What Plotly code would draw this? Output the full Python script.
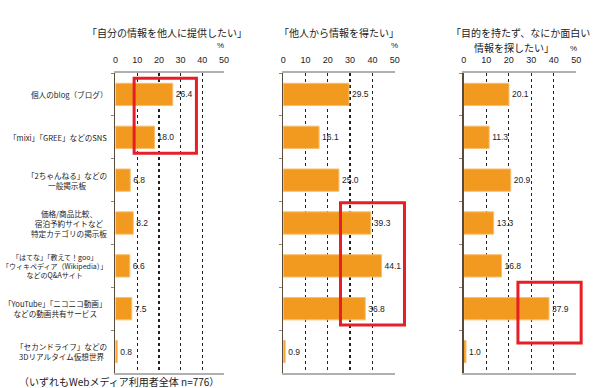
import plotly.graph_objects as go

categories = [
    "個人のblog（ブログ）",
    "「mixi」「GREE」などのSNS",
    "「2ちゃんねる」などの<br>一般掲示板",
    "価格/商品比較、<br>宿泊予約サイトなど<br>特定カテゴリの掲示板",
    "「はてな」「教えて！goo」<br>「ウィキペディア（Wikipedia）」<br>などのQ&Aサイト",
    "「YouTube」「ニコニコ動画」<br>などの動画共有サービス",
    "「セカンドライフ」などの<br>3Dリアルタイム仮想世界",
]
panel_titles = [
    "「自分の情報を他人に提供したい」",
    "「他人から情報を得たい」",
    "「目的を持たず、なにか面白い",
]
panel3_title_line2 = "情報を探したい」"
provide_values = [26.4, 18.0, 6.8, 8.2, 6.6, 7.5, 0.8]
obtain_values = [29.5, 16.1, 25.0, 39.3, 44.1, 36.8, 0.9]
browse_values = [20.1, 11.3, 20.9, 13.3, 16.8, 37.9, 1.0]
x_ticks = [0, 10, 20, 30, 40, 50]
footer = "（いずれもWebメディア利用者全体 n=776）"
# highlight boxes: (panel, x0, x1, top category edge, bottom category edge) in data units
highlights = [
    (0, 8.6, 37.3, -0.38, 1.37),
    (1, 25.7, 54.4, 2.53, 5.38),
    (2, 24.1, 52.2, 4.38, 5.80),
]

W, H = 596, 388
JP = "Noto Sans CJK JP"
x_domains = [(114 / W, 224 / W), (284 / W, 397 / W), (467 / W, 581 / W)]
y_domain = (1 - 373 / H, 1 - 73 / H)
series = [provide_values, obtain_values, browse_values]

fig = go.Figure()
for i, vals in enumerate(series):
    sfx = "" if i == 0 else str(i + 1)
    fig.add_trace(go.Bar(
        x=vals, y=categories, orientation="h",
        xaxis="x" + sfx, yaxis="y" + sfx,
        marker=dict(color="#F29A1F", line=dict(color="#F7BE70", width=1)),
        width=0.52,
        text=[f"{v:.1f}" for v in vals], textposition="outside",
        textfont=dict(family="Liberation Sans, Arial", size=8.5, color="#222"),
        cliponaxis=False, showlegend=False, hoverinfo="skip",
    ))
    fig.layout["xaxis" + sfx] = dict(
        domain=x_domains[i], range=[0, 50], side="top", anchor="y" + sfx,
        tickvals=x_ticks, ticktext=[str(t) for t in x_ticks],
        tickfont=dict(family="Liberation Sans, Arial", size=9, color="#222"),
        ticklabelstandoff=4,
        showgrid=True, griddash="dot", gridcolor="#222", gridwidth=1.3,
        zeroline=False, showline=True, linecolor="#b0b0b0", linewidth=2,
        mirror=True, ticks="", fixedrange=True,
    )
    fig.layout["yaxis" + sfx] = dict(
        domain=y_domain, anchor="x" + sfx, type="category",
        categoryorder="array", categoryarray=categories, autorange="reversed",
        showticklabels=False, showgrid=False, zeroline=False,
        showline=True, linecolor="#5a4a3a", linewidth=1.5,
        ticks="outside", tickson="boundaries", ticklen=3, tickcolor="#888",
        fixedrange=True,
    )

annotations = []
for c in categories:
    size = 7.0 if "Wikipedia" in c else 7.6
    annotations.append(dict(
        text=c, xref="paper", yref="y", x=107 / W, y=c,
        xanchor="right", yanchor="middle", align="center", showarrow=False,
        font=dict(family=JP, size=size, color="#222"),
    ))
title_pos = [(166, 32), (341, 32), (525, 32)]
for (tx, ty), t in zip(title_pos, panel_titles):
    annotations.append(dict(
        text=t, xref="paper", yref="paper", x=tx / W, y=1 - ty / H,
        xanchor="center", yanchor="middle", showarrow=False,
        font=dict(family=JP, size=10, color="#222"),
    ))
annotations.append(dict(
    text=panel3_title_line2, xref="paper", yref="paper", x=518 / W, y=1 - 47 / H,
    xanchor="center", yanchor="middle", showarrow=False,
    font=dict(family=JP, size=10, color="#222"),
))
for px, py in [(220, 45), (397, 45), (578, 48)]:
    annotations.append(dict(
        text="%", xref="paper", yref="paper", x=px / W, y=1 - py / H,
        xanchor="center", yanchor="middle", showarrow=False,
        font=dict(family="Liberation Sans, Arial", size=8, color="#222"),
    ))
annotations.append(dict(
    text=footer, xref="paper", yref="paper", x=14 / W, y=1 - 381 / H,
    xanchor="left", yanchor="middle", showarrow=False,
    font=dict(family=JP, size=10, color="#222"),
))

# highlight rectangles converted from data units to paper
shapes = []
ncat = len(categories)
for p, x0, x1, c0, c1 in highlights:
    d0, d1 = x_domains[p]
    def xp(v):
        return d0 + (v / 50) * (d1 - d0)
    def yp(c):
        return y_domain[1] - ((c + 0.5) / ncat) * (y_domain[1] - y_domain[0])
    shapes.append(dict(
        type="rect", xref="paper", yref="paper",
        x0=xp(x0), x1=xp(x1), y0=yp(c1), y1=yp(c0),
        line=dict(color="#E61E28", width=3), layer="above",
    ))

fig.update_layout(
    width=W, height=H, margin=dict(l=0, r=0, t=0, b=0),
    paper_bgcolor="white", plot_bgcolor="white",
    annotations=annotations, shapes=shapes, bargap=0.48,
)
fig.write_html(
    "out.html",
    config={"displayModeBar": False, "staticPlot": True},
    post_script="document.body.style.margin='0';document.body.style.overflow='hidden';",
)
